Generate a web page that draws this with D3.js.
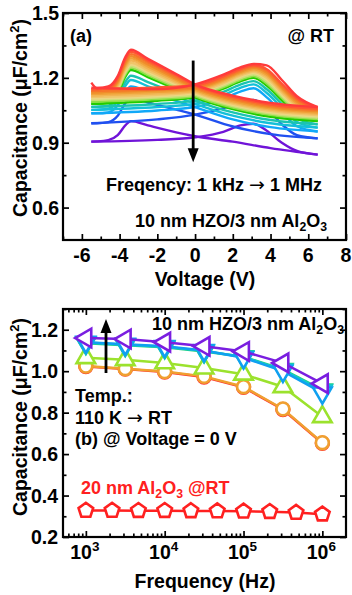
<!DOCTYPE html>
<html>
<head>
<meta charset="utf-8">
<script src="https://cdn.jsdelivr.net/npm/d3@7"></script>
<style>
  body { margin: 0; background: #fff; }
  text { font-family: "Liberation Sans", Arial, sans-serif; font-weight: bold; fill: #000; }
</style>
</head>
<body>
<svg id="chart" width="352" height="595"></svg>
<script>
// ---- panel (a): C-V loops, 1 kHz (red) -> 1 MHz (purple)
const vRev = [-5.5, -5.2, -4.6, -4.1, -3.7, -3.4, -2.5, -1, 0, 2, 4, 6.5];
const vFwd = [-5.5, -2, 0, 1.5, 2.4, 3.1, 3.8, 4.6, 5.4, 6.5];

const cvColors = ["#ff3b3b", "#ff5533", "#f7752a", "#f08c2a", "#f0a238", "#f2b452", "#f0c56a", "#ecd683",
                  "#c8e078", "#8ee048", "#22cc00", "#1bc4b0", "#14c0d8", "#10a8f8", "#2050f0", "#7014d8"];

const cvRev = [
  [1.178, 1.152, 1.16, 1.208, 1.295, 1.33, 1.288, 1.218, 1.17, 1.118, 1.084, 1.065],
  [1.148, 1.148, 1.153, 1.200, 1.286, 1.32, 1.280, 1.212, 1.165, 1.112, 1.077, 1.058],
  [1.14, 1.14, 1.145, 1.191, 1.276, 1.31, 1.271, 1.204, 1.158, 1.105, 1.071, 1.052],
  [1.133, 1.133, 1.138, 1.183, 1.267, 1.30, 1.262, 1.196, 1.152, 1.099, 1.065, 1.046],
  [1.126, 1.126, 1.131, 1.175, 1.257, 1.29, 1.253, 1.189, 1.146, 1.093, 1.059, 1.04],
  [1.119, 1.119, 1.124, 1.167, 1.248, 1.28, 1.244, 1.182, 1.14, 1.087, 1.053, 1.034],
  [1.112, 1.112, 1.117, 1.159, 1.238, 1.27, 1.235, 1.175, 1.134, 1.081, 1.047, 1.028],
  [1.105, 1.105, 1.11, 1.152, 1.231, 1.262, 1.227, 1.168, 1.128, 1.075, 1.041, 1.022],
  [1.098, 1.098, 1.103, 1.145, 1.223, 1.254, 1.220, 1.162, 1.122, 1.069, 1.035, 1.016],
  [1.09, 1.09, 1.095, 1.137, 1.215, 1.246, 1.212, 1.155, 1.116, 1.063, 1.029, 1.01],
  [1.08, 1.08, 1.085, 1.127, 1.205, 1.236, 1.203, 1.148, 1.11, 1.055, 1.02, 1.0],
  [1.066, 1.066, 1.071, 1.109, 1.181, 1.21, 1.18, 1.129, 1.095, 1.04, 1.005, 0.985],
  [1.052, 1.052, 1.057, 1.093, 1.162, 1.19, 1.161, 1.113, 1.08, 1.025, 0.99, 0.97],
  [1.036, 1.036, 1.04, 1.073, 1.135, 1.16, 1.135, 1.094, 1.065, 1.008, 0.972, 0.952],
  [0.99, 0.99, 0.995, 1.025, 1.083, 1.106, 1.086, 1.053, 1.03, 0.975, 0.94, 0.92],
  [0.905, 0.906, 0.912, 0.935, 0.98, 1.0, 0.98, 0.948, 0.93, 0.905, 0.875, 0.845]
];

const cvFwd = [
  [1.155, 1.148, 1.17, 1.215, 1.248, 1.264, 1.258, 1.19, 1.115, 1.065],
  [1.148, 1.156, 1.165, 1.207, 1.241, 1.258, 1.24, 1.172, 1.106, 1.058],
  [1.14, 1.148, 1.158, 1.2, 1.235, 1.252, 1.232, 1.164, 1.098, 1.052],
  [1.133, 1.142, 1.152, 1.194, 1.229, 1.246, 1.224, 1.156, 1.09, 1.046],
  [1.126, 1.135, 1.146, 1.188, 1.223, 1.24, 1.216, 1.148, 1.082, 1.04],
  [1.119, 1.128, 1.14, 1.182, 1.217, 1.234, 1.208, 1.14, 1.074, 1.034],
  [1.112, 1.122, 1.134, 1.176, 1.211, 1.228, 1.2, 1.132, 1.066, 1.028],
  [1.105, 1.115, 1.128, 1.17, 1.205, 1.222, 1.192, 1.124, 1.058, 1.022],
  [1.098, 1.109, 1.122, 1.164, 1.198, 1.215, 1.183, 1.115, 1.05, 1.016],
  [1.09, 1.102, 1.116, 1.157, 1.191, 1.208, 1.174, 1.107, 1.042, 1.01],
  [1.08, 1.094, 1.11, 1.15, 1.184, 1.2, 1.164, 1.096, 1.03, 1.0],
  [1.066, 1.079, 1.095, 1.135, 1.169, 1.185, 1.147, 1.079, 1.013, 0.985],
  [1.052, 1.065, 1.08, 1.12, 1.154, 1.17, 1.13, 1.062, 0.996, 0.97],
  [1.036, 1.049, 1.065, 1.104, 1.136, 1.152, 1.11, 1.042, 0.976, 0.952],
  [0.99, 1.008, 1.03, 1.06, 1.088, 1.098, 1.06, 0.985, 0.935, 0.92],
  [0.905, 0.913, 0.925, 0.95, 0.98, 0.988, 0.955, 0.9, 0.862, 0.845]
];

const voltTicks = [-6, -4, -2, 0, 2, 4, 6, 8];
const voltMinor = [-7, -5, -3, -1, 1, 3, 5, 7];
const capTicksA = [0.6, 0.9, 1.2, 1.5];
const capMinorA = [0.75, 1.05, 1.35];

// ---- panel (b): C at 0 V vs frequency
const freqHZO = [1e3, 3.16e3, 1e4, 3.16e4, 1e5, 3.16e5, 1e6];
const tempNames = ["red", "orange", "lime", "green", "cyan", "sky", "purple"];
const tempColors = ["#ff3030", "#f0a030", "#9be22d", "#20d080", "#10c8d0", "#10a0f0", "#7a1ee0"];
const tempShapes = ["circle", "circle", "up", "down", "down", "down", "left"];
const capRed    = [1.022, 1.01, 0.996, 0.972, 0.922, 0.815, 0.652];
const capOrange = [1.025, 1.012, 0.998, 0.975, 0.925, 0.818, 0.655];
const capLime   = [1.065, 1.055, 1.04, 1.015, 0.985, 0.925, 0.78];
const capGreen  = [1.135, 1.125, 1.115, 1.095, 1.07, 1.008, 0.91];
const capCyan   = [1.138, 1.128, 1.118, 1.098, 1.068, 1.005, 0.905];
const capSky    = [1.14, 1.13, 1.12, 1.1, 1.065, 1.0, 0.895];
const capPurple = [1.16, 1.155, 1.14, 1.12, 1.095, 1.04, 0.94];
const tempCaps = [capRed, capOrange, capLime, capGreen, capCyan, capSky, capPurple];

const freqAl = [1e3, 2.15e3, 4.64e3, 1e4, 2.15e4, 4.64e4, 1e5, 2.15e5, 4.64e5, 1e6];
const capAl = [0.328, 0.328, 0.327, 0.327, 0.326, 0.325, 0.324, 0.322, 0.318, 0.31];

const freqTicks = [1e3, 1e4, 1e5, 1e6];
const freqExp = ["3", "4", "5", "6"];
const capTicksB = [0.2, 0.4, 0.6, 0.8, 1.0, 1.2];
const capMinorB = [0.3, 0.5, 0.7, 0.9, 1.1, 1.3];

const svg = d3.select("#chart");

const boxA = { l: 63, r: 346, t: 13, b: 240 };
const boxB = { l: 63, r: 346, t: 309, b: 537 };

const xA = d3.scaleLinear().domain([-7, 8]).range([boxA.l, boxA.r]);
const yA = d3.scaleLinear().domain([0.45, 1.5]).range([boxA.b, boxA.t]);
const xB = d3.scaleLog().domain([Math.pow(10, 2.71), Math.pow(10, 6.3)]).range([boxB.l, boxB.r]);
const yB = d3.scaleLinear().domain([0.2, 1.3]).range([boxB.b, boxB.t]);

function ticks(box, x, y, xMaj, xMin, yMaj, yMin) {
  const g = svg.append("g");
  const add = (axis, tx, ty) => {
    g.append("g").attr("transform", `translate(${tx},${ty})`).call(axis)
      .call(s => {
        s.select(".domain").remove();
        s.selectAll("text").remove();
        s.selectAll("line").attr("stroke", "#000").attr("stroke-width", 1.7);
      });
  };
  add(d3.axisBottom(x).tickValues(xMaj).tickSize(-6), 0, box.b);
  add(d3.axisBottom(x).tickValues(xMin).tickSize(-3.5), 0, box.b);
  add(d3.axisTop(x).tickValues(xMaj).tickSize(-6), 0, box.t);
  add(d3.axisTop(x).tickValues(xMin).tickSize(-3.5), 0, box.t);
  add(d3.axisLeft(y).tickValues(yMaj).tickSize(-6), box.l, 0);
  add(d3.axisLeft(y).tickValues(yMin).tickSize(-3.5), box.l, 0);
  add(d3.axisRight(y).tickValues(yMaj).tickSize(-6), box.r, 0);
  add(d3.axisRight(y).tickValues(yMin).tickSize(-3.5), box.r, 0);
  g.append("rect")
    .attr("x", box.l).attr("y", box.t)
    .attr("width", box.r - box.l).attr("height", box.b - box.t)
    .attr("fill", "none").attr("stroke", "#000").attr("stroke-width", 2.2);
}

function yLabel(cy) {
  const t = svg.append("text")
    .attr("transform", `translate(27,${cy}) rotate(-90)`)
    .attr("text-anchor", "middle")
    .attr("font-size", 19.5);
  t.append("tspan").text("Capacitance (\u03bcF/cm");
  t.append("tspan").attr("font-size", 13).attr("dy", -8).text("2");
  t.append("tspan").attr("dy", 8).text(")");
}

function alText(t, size) {
  t.append("tspan").text("Al");
  t.append("tspan").attr("font-size", size * 0.68).attr("dy", 4).text("2");
  t.append("tspan").attr("dy", -4).text("O");
  t.append("tspan").attr("font-size", size * 0.68).attr("dy", 4).text("3");
}

function arrowText(t, size) {
  t.append("tspan").attr("font-family", "DejaVu Sans").attr("font-weight", "normal")
    .attr("font-size", size * 1.05).text("\u2192");
}

function arrow(x, y0, y1) {
  const dir = y1 > y0 ? 1 : -1;
  svg.append("line")
    .attr("x1", x).attr("x2", x).attr("y1", y0).attr("y2", y1 - dir * 10)
    .attr("stroke", "#000").attr("stroke-width", 2.8);
  svg.append("path")
    .attr("d", `M${x - 5.5},${y1 - dir * 14}L${x + 5.5},${y1 - dir * 14}L${x},${y1}Z`)
    .attr("fill", "#000");
}

// ===== panel (a)
const lineA = d3.line().x(d => xA(d[0])).y(d => yA(d[1])).curve(d3.curveMonotoneX);
const gA = svg.append("g");
for (let i = cvColors.length - 1; i >= 0; i--) {
  gA.append("path").datum(vRev.map((v, k) => [v, cvRev[i][k]]))
    .attr("d", lineA).attr("fill", "none").attr("stroke", cvColors[i]).attr("stroke-width", 2.4);
  gA.append("path").datum(vFwd.map((v, k) => [v, cvFwd[i][k]]))
    .attr("d", lineA).attr("fill", "none").attr("stroke", cvColors[i]).attr("stroke-width", 2.4);
}

ticks(boxA, xA, yA, voltTicks, voltMinor, capTicksA, capMinorA);

svg.append("g").selectAll("text").data(capTicksA).join("text")
  .attr("x", 59).attr("y", d => yA(d) + 7)
  .attr("text-anchor", "end").attr("font-size", 19.5)
  .text(d3.format(".1f"));
svg.append("g").selectAll("text").data(voltTicks).join("text")
  .attr("x", d => xA(d)).attr("y", 262)
  .attr("text-anchor", "middle").attr("font-size", 19.5)
  .text(d => d);
svg.append("text").attr("x", 205).attr("y", 286).attr("text-anchor", "middle")
  .attr("font-size", 19.5).text("Voltage (V)");
yLabel(118);

arrow(xA(-0.1), yA(1.28), yA(0.81));

svg.append("text").attr("x", 70).attr("y", 42).attr("font-size", 18).text("(a)");
svg.append("text").attr("x", 334).attr("y", 42).attr("text-anchor", "end").attr("font-size", 18).text("@ RT");
const fq = svg.append("text").attr("x", 106).attr("y", 191).attr("font-size", 18).text("Freqency: 1 kHz ");
arrowText(fq, 18);
fq.append("tspan").text(" 1 MHz");
alText(svg.append("text").attr("x", 135).attr("y", 227).attr("font-size", 18).text("10 nm HZO/3 nm "), 18);

// ===== panel (b)
const lineB = d3.line().x(d => xB(d[0])).y(d => yB(d[1]));
const pentagon = {
  draw(ctx, size) {
    const r = Math.sqrt(size / 2.378);
    for (let k = 0; k < 5; k++) {
      const a = -Math.PI / 2 + k * 2 * Math.PI / 5;
      if (k === 0) ctx.moveTo(r * Math.cos(a), r * Math.sin(a));
      else ctx.lineTo(r * Math.cos(a), r * Math.sin(a));
    }
    ctx.closePath();
  }
};
const symbolFor = s => s === "circle" ? d3.symbol(d3.symbolCircle, 130)() : d3.symbol(d3.symbolTriangle, 150)();
const rotFor = s => s === "down" ? 180 : s === "left" ? -90 : 0;

const gB = svg.append("g");
tempNames.forEach((name, i) => {
  const pts = freqHZO.map((f, k) => [f, tempCaps[i][k]]);
  gB.append("path").datum(pts).attr("d", lineB)
    .attr("fill", "none").attr("stroke", tempColors[i]).attr("stroke-width", 2.5);
  gB.append("g").selectAll("path").data(pts).join("path")
    .attr("d", symbolFor(tempShapes[i]))
    .attr("transform", d => `translate(${xB(d[0])},${yB(d[1])}) rotate(${rotFor(tempShapes[i])})`)
    .attr("fill", "#fff").attr("stroke", tempColors[i]).attr("stroke-width", 2.6);
});

const alPts = freqAl.map((f, k) => [f, capAl[k]]);
gB.append("path").datum(alPts).attr("d", lineB)
  .attr("fill", "none").attr("stroke", "#ff2020").attr("stroke-width", 2.5);
gB.append("g").selectAll("path").data(alPts).join("path")
  .attr("d", d3.symbol(pentagon, 140)())
  .attr("transform", d => `translate(${xB(d[0])},${yB(d[1])})`)
  .attr("fill", "#fff").attr("stroke", "#ff2020").attr("stroke-width", 2.6);

const freqMinor = [];
[1e2, 1e3, 1e4, 1e5, 1e6].forEach(dec => {
  [2, 3, 4, 5, 6, 7, 8, 9].forEach(m => {
    const f = dec * m;
    if (f > xB.domain()[0] && f < xB.domain()[1]) freqMinor.push(f);
  });
});
ticks(boxB, xB, yB, freqTicks, freqMinor, capTicksB, capMinorB);

svg.append("g").selectAll("text").data(capTicksB).join("text")
  .attr("x", 58).attr("y", d => yB(d) + 7)
  .attr("text-anchor", "end").attr("font-size", 19.5)
  .text(d3.format(".1f"));
freqTicks.forEach((f, i) => {
  const t = svg.append("text").attr("x", xB(f) - 1).attr("y", 559)
    .attr("text-anchor", "middle").attr("font-size", 19.5);
  t.append("tspan").text("10");
  t.append("tspan").attr("font-size", 13.5).attr("dy", -8).text(freqExp[i]);
});
svg.append("text").attr("x", 205).attr("y", 588).attr("text-anchor", "middle")
  .attr("font-size", 19.5).text("Frequency (Hz)");
yLabel(417);

arrow(106, 373, 319);

alText(svg.append("text").attr("x", 344).attr("y", 330).attr("text-anchor", "end")
  .attr("font-size", 18).text("10 nm HZO/3 nm "), 18);
svg.append("text").attr("x", 75).attr("y", 402).attr("font-size", 18).text("Temp.:");
const tr = svg.append("text").attr("x", 75).attr("y", 424).attr("font-size", 18).text("110 K ");
arrowText(tr, 18);
tr.append("tspan").text(" RT");
svg.append("text").attr("x", 75).attr("y", 445).attr("font-size", 18).text("(b) @ Voltage = 0 V");
const alRed = svg.append("text").attr("x", 81).attr("y", 494).attr("font-size", 18)
  .style("fill", "#ff2020").text("20 nm ");
alText(alRed, 18);
alRed.append("tspan").attr("dy", -4).text(" @RT");
</script>
</body>
</html>
